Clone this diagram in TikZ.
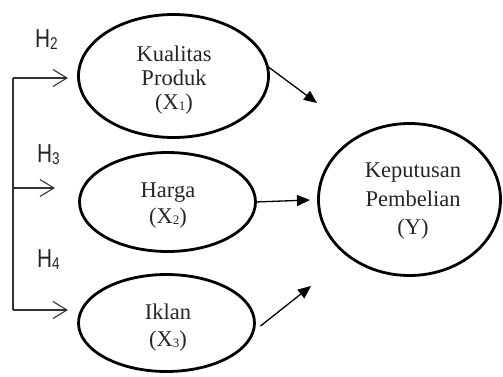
\documentclass[tikz,border=0pt]{standalone}
\usepackage{fontspec}
\setmainfont{Liberation Serif}
\newfontfamily\hfont{Liberation Sans}
\usetikzlibrary{arrows.meta,shapes.geometric}
\newcommand{\smallsub}[1]{\raisebox{-1pt}{\fontsize{13}{13}\selectfont #1}}
\newcommand{\hsub}[1]{\raisebox{-2pt}{\fontsize{17}{17}\selectfont #1}}
\begin{document}
\begin{tikzpicture}[x=1pt,y=-1pt,
  var/.style={draw,line width=2.8pt,ellipse,inner sep=0pt,outer sep=0pt},
  txt/.style={anchor=base,inner sep=0pt,font=\fontsize{22.5}{24}\selectfont,text=black!85},
  hyp/.style={anchor=base west,inner sep=0pt,font=\hfont\fontsize{26}{28}\selectfont,text=black!85},
  path/.style={line width=1.3pt,-{Triangle[length=13pt,width=11pt]}},
  brk/.style={line width=1.1pt,draw=black!80},
  brkarrow/.style={brk,-{Straight Barb[length=14pt,width=17pt,line width=1.1pt]}}]
\useasboundingbox (0,0) rectangle (503,377);
% ellipses
\node[var,minimum width=190pt,minimum height=123pt] (x1) at (173.5,76) {};
\node[var,minimum width=176pt,minimum height=99pt] (x2) at (167.5,202) {};
\node[var,minimum width=176pt,minimum height=97pt] (x3) at (166.5,323) {};
\node[var,minimum width=182pt,minimum height=152pt] (y) at (409.5,199.5) {};
% texts
\node[txt] (t1a) at (174,62) {Kualitas};
\node[txt] (t1b) at (174,86) {Produk};
\node[txt] (t1c) at (174,110) {(X\smallsub{1})};
\node[txt] (t2a) at (168,197) {Harga};
\node[txt] (t2b) at (168,223) {(X\smallsub{2})};
\node[txt] (t3a) at (168,319) {Iklan};
\node[txt] (t3b) at (168,346) {(X\smallsub{3})};
\node[txt] (tya) at (413,177) {Keputusan};
\node[txt] (tyb) at (413,206) {Pembelian};
\node[txt] (tyc) at (413,234) {(Y)};
% hypothesis labels
\node[hyp] (h2) at (35,48) {\scalebox{0.8}[1]{H\hsub{2}}};
\node[hyp] (h3) at (37,162) {\scalebox{0.8}[1]{H\hsub{3}}};
\node[hyp] (h4) at (37,267) {\scalebox{0.8}[1]{H\hsub{4}}};
% arrows to Y
\coordinate (e1) at (317,103);
\coordinate (e2) at (310,200);
\coordinate (e3) at (311,286);
\draw[path] (x1.6) -- (e1);
\draw[path] (x2.east) -- (e2);
\draw[path] ([xshift=6pt,yshift=-3pt]x3.east) -- (e3);
% bracket
\coordinate (b1) at (13,78);
\coordinate (b2) at (13,188);
\coordinate (b3) at (13,310);
\coordinate (a1) at (68,78);
\coordinate (a2) at (55,188);
\coordinate (a3) at (68,310);
\draw[brk] (b1) -- (b3);
\draw[brkarrow] (b1) -- (a1);
\draw[brkarrow] (b2) -- (a2);
\draw[brkarrow] (b3) -- (a3);
\end{tikzpicture}
\end{document}
